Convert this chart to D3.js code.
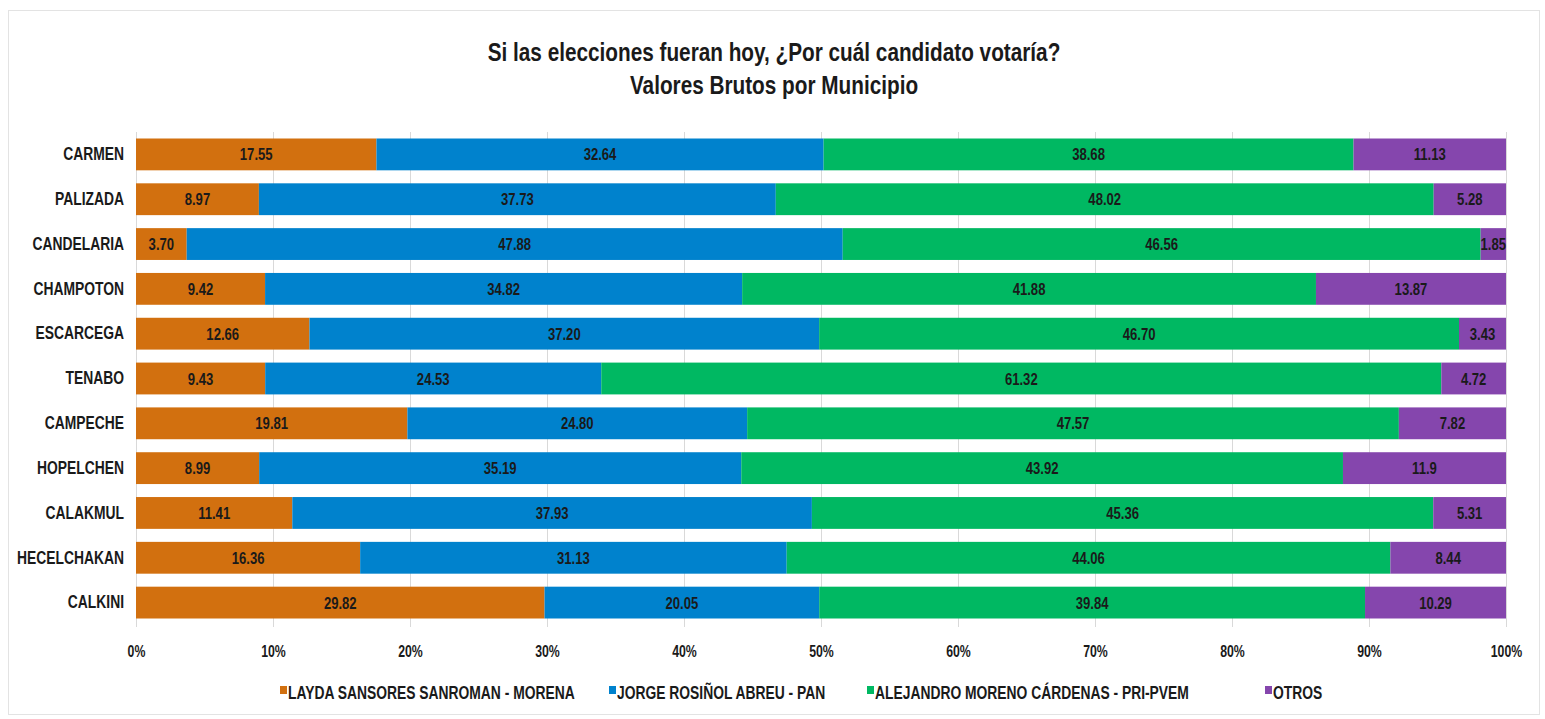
<!DOCTYPE html>
<html><head><meta charset="utf-8">
<script src="https://cdn.jsdelivr.net/npm/d3@7/dist/d3.min.js"></script>
<style>
body{margin:0;background:#fff;}
text{font-family:"Liberation Sans",Arial,sans-serif;font-weight:bold;}
</style></head><body>
<svg id="c" width="1545" height="719"></svg>
<script>
const categories=["CARMEN","PALIZADA","CANDELARIA","CHAMPOTON","ESCARCEGA","TENABO","CAMPECHE","HOPELCHEN","CALAKMUL","HECELCHAKAN","CALKINI"];
const seriesNames=["LAYDA SANSORES SANROMAN - MORENA","JORGE ROSIÑOL ABREU - PAN","ALEJANDRO MORENO CÁRDENAS - PRI-PVEM","OTROS"];
const morena=[17.55,8.97,3.70,9.42,12.66,9.43,19.81,8.99,11.41,16.36,29.82];
const pan=[32.64,37.73,47.88,34.82,37.20,24.53,24.80,35.19,37.93,31.13,20.05];
const pri=[38.68,48.02,46.56,41.88,46.70,61.32,47.57,43.92,45.36,44.06,39.84];
const otros=[11.13,5.28,1.85,13.87,3.43,4.72,7.82,11.9,5.31,8.44,10.29];
const otrosLabels=["11.13","5.28","1.85","13.87","3.43","4.72","7.82","11.9","5.31","8.44","10.29"];
const ticks=[0,10,20,30,40,50,60,70,80,90,100];
const colors=["#D2700F","#0082CD","#00B862","#8546AD"];

const SX=0.77;
const svg=d3.select("#c");
svg.append("rect").attr("x",8.5).attr("y",10.5).attr("width",1531).attr("height",704).attr("fill","#fff").attr("stroke","#e3e3e3");

function ctext(parent,x,y,sx,size,str,anchor){
  return parent.append("text").attr("transform",`translate(${x},${y}) scale(${sx},1)`)
    .attr("text-anchor",anchor||"start").attr("font-size",size).attr("fill","#1a1a1a").text(str);
}
ctext(svg,774,61,0.83,25,"Si las elecciones fueran hoy, ¿Por cuál candidato votaría?","middle");
ctext(svg,774,94,0.83,25,"Valores Brutos por Municipio","middle");

const x=d3.scaleLinear().domain([0,100]).range([136,1506]);
const y=d3.scaleBand().domain(categories).range([132,625]).paddingInner(0.29).paddingOuter(0.145);

const g=svg.append("g");
g.selectAll("line.grid").data(ticks).join("line").attr("class","grid")
 .attr("x1",d=>x(d)+0.5).attr("x2",d=>x(d)+0.5).attr("y1",132).attr("y2",627)
 .attr("stroke","#d9d9d9").attr("stroke-width",1);

const rows=categories.map((c,i)=>{const vals=[morena[i],pan[i],pri[i],otros[i]];const tot=d3.sum(vals);return {c,vals,tot};});
const lbls=[morena.map(d=>d.toFixed(2)),pan.map(d=>d.toFixed(2)),pri.map(d=>d.toFixed(2)),otrosLabels];
rows.forEach((r,i)=>{
  let acc=0;
  r.vals.forEach((v,s)=>{
    const p0=acc/r.tot*100, p1=(acc+v)/r.tot*100; acc+=v;
    g.append("rect").attr("x",x(p0)).attr("y",y(r.c)).attr("width",x(p1)-x(p0)).attr("height",y.bandwidth()).attr("fill",colors[s]);
    ctext(g,(x(p0)+x(p1))/2,y(r.c)+y.bandwidth()/2+6,SX,17,lbls[s][i],"middle");
  });
});

const yAxis=d3.axisLeft(y).tickSize(0).tickPadding(12);
const ya=svg.append("g").attr("transform","translate(136,0)").call(yAxis);
ya.select(".domain").remove();
ya.selectAll("text").attr("font-size",18).attr("fill","#1a1a1a").attr("font-family","Liberation Sans, Arial").attr("font-weight","bold")
  .attr("x",-12/SX).attr("transform",`scale(${SX},1)`);

const xAxis=d3.axisBottom(x).tickValues(ticks).tickFormat(d=>d+"%").tickSize(0).tickPadding(19);
const xa=svg.append("g").attr("transform","translate(0,627)").call(xAxis);
xa.select(".domain").remove();
xa.selectAll("text").attr("font-size",16).attr("fill","#1a1a1a").attr("font-family","Liberation Sans, Arial").attr("font-weight","bold")
  .attr("transform",`scale(${SX},1)`);

const legX=[280,609,867,1265];
const leg=svg.append("g");
seriesNames.forEach((n,i)=>{
  leg.append("rect").attr("x",legX[i]).attr("y",686).attr("width",7).attr("height",8).attr("fill",colors[i]);
  ctext(leg,legX[i]+8,699,SX,18,n);
});
</script></body></html>
